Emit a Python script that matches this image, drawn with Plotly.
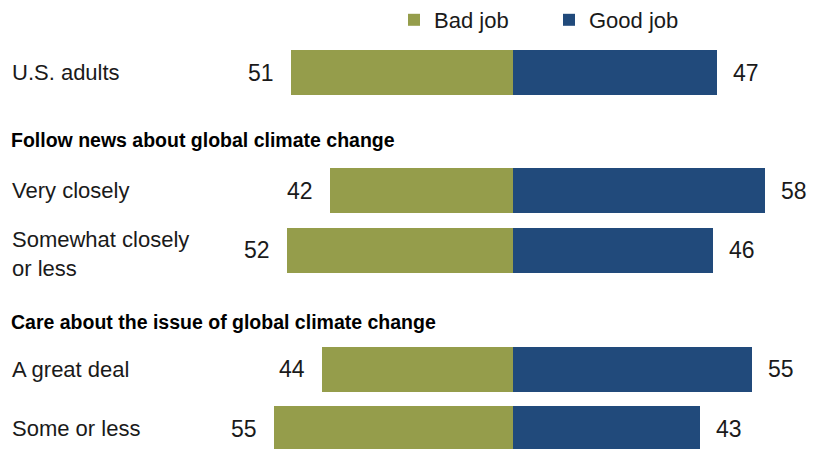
import plotly.graph_objects as go

# ---- data ----
categories = ["U.S. adults", "Very closely", "Somewhat closely<br>or less",
              "A great deal", "Some or less"]
bad_job = [51, 42, 52, 44, 55]
good_job = [47, 58, 46, 55, 43]
section_headers = ["Follow news about global climate change",
                   "Care about the issue of global climate change"]

# ---- layout (screen pixel rows, top = 0) ----
SCREEN_W, SCREEN_H = 820, 449
OFF = 8  # page body margin
W, H = SCREEN_W - OFF, SCREEN_H - OFF
row_y = [72.5, 190.5, 250, 369, 428.5]
header_y = [140, 322]
center_px = 513
px_per_unit = 4.35
x_range = [(OFF - center_px) / px_per_unit, (SCREEN_W - center_px) / px_per_unit]
y_range = [SCREEN_H, OFF]

GREEN = "#959d4b"
BLUE = "#214a7b"
FONT = "Liberation Sans, Arial, sans-serif"
TXT = "#1a1a1a"

fig = go.Figure()
fig.add_trace(go.Bar(
    y=row_y, x=[-v for v in bad_job], orientation="h",
    name="Bad job", marker=dict(color=GREEN, line=dict(width=0)),
    width=45, hoverinfo="skip"))
fig.add_trace(go.Bar(
    y=row_y, x=good_job, orientation="h",
    name="Good job", marker=dict(color=BLUE, line=dict(width=0)),
    width=45, hoverinfo="skip"))


def px_x(screen_x):
    return (screen_x - OFF) / W


annotations = []
for yy, b, g, cat in zip(row_y, bad_job, good_job, categories):
    annotations.append(dict(x=-b, y=yy, xref="x", yref="y", text=str(b),
                            showarrow=False, xanchor="right", xshift=-15,
                            font=dict(size=23, color=TXT, family=FONT)))
    annotations.append(dict(x=g, y=yy, xref="x", yref="y", text=str(g),
                            showarrow=False, xanchor="left", xshift=14,
                            font=dict(size=23, color=TXT, family=FONT)))
    annotations.append(dict(x=px_x(10), y=yy + (4 if "<br>" in cat else 0),
                            xref="paper", yref="y", text=cat,
                            showarrow=False, xanchor="left", align="left",
                            font=dict(size=22, color=TXT, family=FONT)))
for yy, h in zip(header_y, section_headers):
    annotations.append(dict(x=px_x(9), y=yy, xref="paper", yref="y",
                            text="<b>" + h + "</b>", showarrow=False,
                            xanchor="left",
                            font=dict(size=19.5, color="#000", family=FONT)))

fig.update_layout(
    width=W, height=H,
    margin=dict(l=0, r=0, t=0, b=0, autoexpand=False),
    paper_bgcolor="white", plot_bgcolor="white",
    barmode="relative", bargap=0,
    showlegend=True,
    legend=dict(orientation="h", x=px_x(394), xanchor="left",
                y=1 + 9 / H, yanchor="top", traceorder="normal",
                entrywidth=110, entrywidthmode="pixels",
                font=dict(size=22, color=TXT, family=FONT),
                bgcolor="rgba(0,0,0,0)"),
    xaxis=dict(range=x_range, visible=False, fixedrange=True),
    yaxis=dict(range=y_range, visible=False, fixedrange=True),
    annotations=annotations,
)

fig.write_html("out.html")
